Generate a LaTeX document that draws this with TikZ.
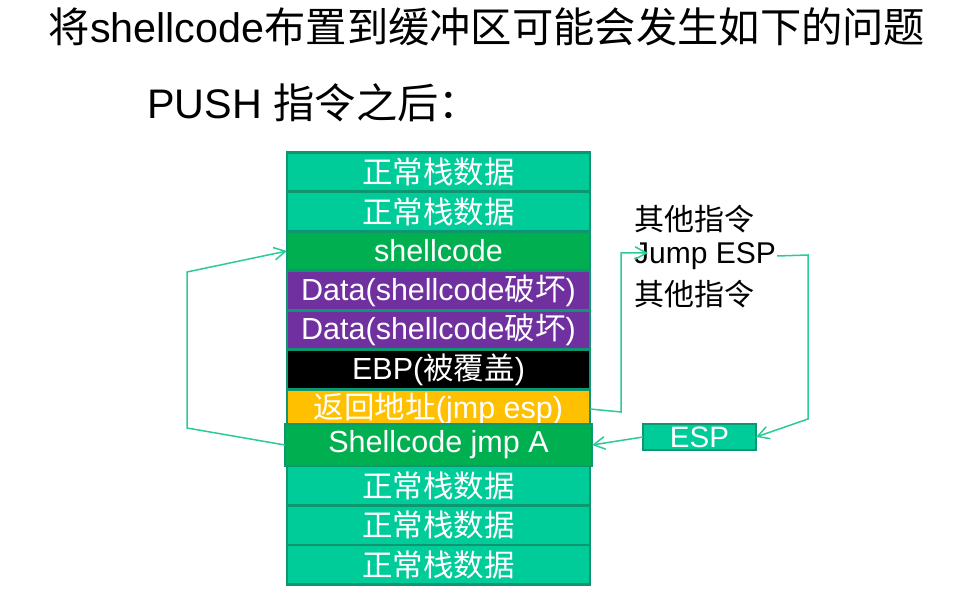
\documentclass[tikz,border=0pt]{standalone}
\usepackage{fontspec}
\setmainfont{Liberation Sans}
\newfontfamily\zhfont{Noto Sans CJK SC}
\newcommand{\zh}[1]{{\zhfont #1}}
\usepackage{xcolor}
\usetikzlibrary{arrows.meta,positioning}
\definecolor{stackfill}{HTML}{00CC99}
\definecolor{stackedge}{HTML}{0E9670}
\definecolor{codegreen}{HTML}{00AF50}
\definecolor{datapurple}{HTML}{7030A0}
\definecolor{retyellow}{HTML}{FFC000}
\definecolor{jumpline}{HTML}{2ACB98}
\tikzset{
  >={Straight Barb[length=4mm,width=4.4mm]},
  slot/.style={draw=stackedge,line width=2.6pt,minimum width=303pt,minimum height=39.5pt,
    inner sep=0pt,outer sep=0pt,text=white,font=\fontsize{30.5}{30.5}\selectfont},
  normal/.style={slot,fill=stackfill},
  codeslot/.style={slot,fill=codegreen},
  dataslot/.style={slot,fill=datapurple},
  headline/.style={font=\fontsize{41.3}{41.3}\selectfont,inner sep=0pt},
  note/.style={font=\fontsize{30}{30}\selectfont,anchor=west,inner sep=1pt},
  jump/.style={->,line width=1.5pt,color=jumpline},
}

\begin{document}
\begin{tikzpicture}[x=1pt,y=-1pt]
  \useasboundingbox (0,0) rectangle (975,604);
  % headings
  \node[headline] (title) at (487,27) {\zh{将}shellcode\zh{布置到缓冲区可能会发生如下的问题}};
  \node[headline,anchor=west] (push) at (147,103) {PUSH \zh{指令之后：}};

  % stack after the push
  \node[normal] (r1) at (438.5,172) {\zh{正常栈数据}};
  \node[normal,below=0pt of r1] (r2) {\zh{正常栈数据}};
  \node[codeslot,below=0pt of r2] (shell) {shellcode};
  \node[dataslot,below=0pt of shell] (data1) {Data(shellcode\zh{破坏})};
  \node[dataslot,below=0pt of data1] (data2) {Data(shellcode\zh{破坏})};
  \node[slot,fill=black,below=0pt of data2] (ebp) {EBP(\zh{被覆盖})};
  \node[slot,fill=retyellow,below=0pt of ebp] (ret) {\zh{返回地址}(jmp esp)};
  \node[codeslot,minimum width=307pt,minimum height=42pt,below=-4.75pt of ret] (jmpA) {Shellcode jmp A};
  \node[normal,below=0pt of jmpA] (r3) {\zh{正常栈数据}};
  \node[normal,below=0pt of r3] (r4) {\zh{正常栈数据}};
  \node[normal,below=0pt of r4] (r5) {\zh{正常栈数据}};

  % code and register
  \node[note] (other1) at (633,219) {\zh{其他指令}};
  \node[note] (jmpesp) at (633,256) {Jump ESP};
  \node[note] (other2) at (633,294) {\zh{其他指令}};
  \node[draw=stackedge,fill=stackfill,line width=2.6pt,minimum width=113pt,minimum height=26pt,
    inner sep=0pt,outer sep=0pt,text=white,font=\fontsize{29.5}{29.5}\selectfont] (esp) at (699.5,437) {ESP};

  % jumps
  \coordinate (loopbot) at (187,428);
  \coordinate (looptop) at (187,272);
  \coordinate (retout) at (621,412);
  \coordinate (retup) at (621,253);
  \coordinate (jtip) at (648,253);
  \coordinate (espout) at (808,255);
  \coordinate (espdown) at (808,419);
  \draw[jump] (jmpA.west) -- (loopbot) -- (looptop) -- (shell.west);
  \draw[jump] (ret.east) -- (retout) -- (retup) -- (jtip);
  \draw[jump] (jmpesp.east) -- (espout) -- (espdown) -- (esp.east);
  \draw[jump] (esp.west) -- (jmpA.east);
\end{tikzpicture}
\end{document}
